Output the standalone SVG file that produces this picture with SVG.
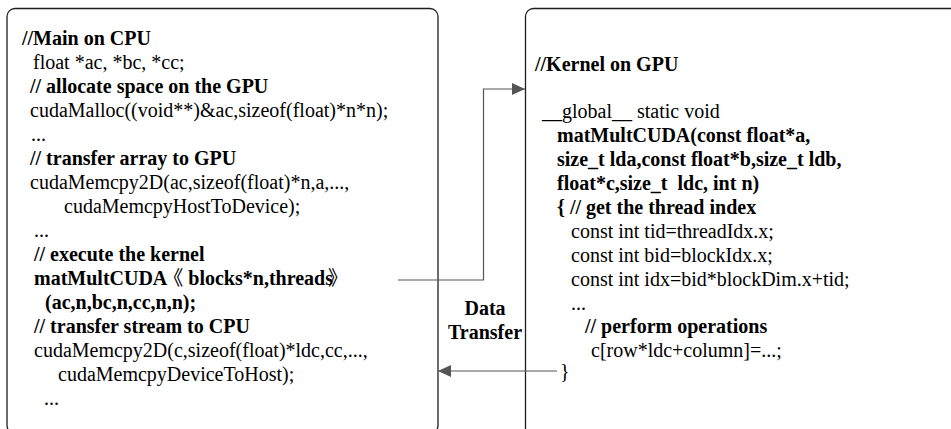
<svg xmlns="http://www.w3.org/2000/svg" width="951" height="429" viewBox="0 0 951 429">
  <defs>
    <style>
      .box { fill: #ffffff; stroke: #1e1e1e; stroke-width: 1.3; }
      .code { font-family: "Liberation Serif", "Times New Roman", serif; font-size: 20px; fill: #000; }
      .b { font-weight: bold; }
      .cjk { font-family: "Noto Sans CJK SC", "Liberation Serif", serif; font-weight: normal; }
      .wire { fill: none; stroke: #555555; stroke-width: 1.2; }
      .label { font-family: "Liberation Serif", "Times New Roman", serif; font-size: 20px; font-weight: bold; fill: #000; text-anchor: middle; }
    </style>
    <marker id="arrow" viewBox="0 0 13 12" refX="13" refY="6" markerWidth="13" markerHeight="12" markerUnits="userSpaceOnUse" orient="auto">
      <path d="M0,0 L13,6 L0,12 Z" fill="#555555"/>
    </marker>
  </defs>

  <rect width="951" height="429" fill="#ffffff"/>

  <!-- host program -->
  <g id="cpu-main">
    <rect class="box" x="7" y="8.5" width="431" height="425" rx="8"/>
    <text class="code b" x="22" y="45">//Main on CPU</text>
    <text class="code" x="33" y="69">float *ac, *bc, *cc;</text>
    <text class="code b" x="30" y="93">// allocate space on the GPU</text>
    <text class="code" x="30" y="117">cudaMalloc((void**)&amp;ac,sizeof(float)*n*n);</text>
    <text class="code" x="31" y="141">...</text>
    <text class="code b" x="30" y="165">// transfer array to GPU</text>
    <text class="code" x="30" y="189">cudaMemcpy2D(ac,sizeof(float)*n,a,...,</text>
    <text class="code" x="64" y="213">cudaMemcpyHostToDevice);</text>
    <text class="code" x="34" y="237">...</text>
    <text class="code b" x="34" y="261">// execute the kernel</text>
    <text class="code b" x="34" y="285">matMultCUDA<tspan class="cjk" dx="-4">《</tspan> blocks*n,threads<tspan class="cjk" dx="-5">》</tspan></text>
    <text class="code b" x="45" y="309">(ac,n,bc,n,cc,n,n);</text>
    <text class="code b" x="34" y="333">// transfer stream to CPU</text>
    <text class="code" x="34" y="357">cudaMemcpy2D(c,sizeof(float)*ldc,cc,...,</text>
    <text class="code" x="58" y="381">cudaMemcpyDeviceToHost);</text>
    <text class="code" x="44" y="405">...</text>
  </g>

  <!-- device kernel -->
  <g id="gpu-kernel">
    <rect class="box" x="525.5" y="8.5" width="440" height="440" rx="8"/>
    <text class="code b" x="535" y="71">//Kernel on GPU</text>
    <text class="code" x="542" y="118">__global__ static void</text>
    <text class="code b" x="557" y="142">matMultCUDA(const float*a,</text>
    <text class="code b" x="557" y="166">size_t lda,const float*b,size_t ldb,</text>
    <text class="code b" x="557" y="190" xml:space="preserve">float*c,size_t  ldc, int n)</text>
    <text class="code b" x="557" y="214">{ // get the thread index</text>
    <text class="code" x="571" y="238">const int tid=threadIdx.x;</text>
    <text class="code" x="571" y="262">const int bid=blockIdx.x;</text>
    <text class="code" x="571" y="286">const int idx=bid*blockDim.x+tid;</text>
    <text class="code" x="571" y="310">...</text>
    <text class="code b" x="585" y="333">// perform operations</text>
    <text class="code" x="591" y="357">c[row*ldc+column]=...;</text>
    <text class="code" x="560" y="378">}</text>
  </g>

  <!-- transfers between host and device -->
  <g id="connectors">
    <polyline class="wire" points="398,280 483.5,280 483.5,89 525,89" marker-end="url(#arrow)"/>
    <line class="wire" x1="557" y1="371" x2="438" y2="371" marker-end="url(#arrow)"/>
  </g>

  <g id="data-transfer-label">
    <text class="label" x="485" y="315">Data</text>
    <text class="label" x="485" y="339">Transfer</text>
  </g>
</svg>
